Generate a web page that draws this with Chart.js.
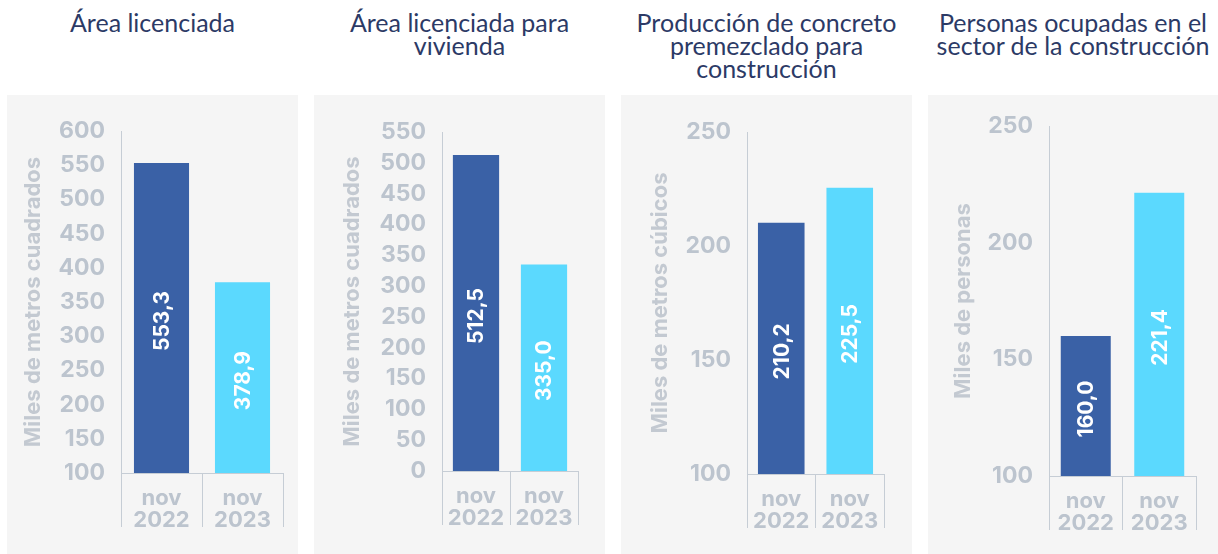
<!DOCTYPE html>
<html>
<head>
<meta charset="utf-8">
<script src="https://cdn.jsdelivr.net/npm/chart.js@4/dist/chart.umd.min.js"></script>
<style>
  body { margin: 0; background: #fff; width: 1218px; height: 554px; position: relative; overflow: hidden; }
  .title { position: absolute; top: 11px; text-align: center; font-family: Lato, sans-serif; font-size: 25px;
           line-height: 23px; color: #2c3a66; white-space: nowrap; }
  canvas { position: absolute; background: #f5f5f5; }
</style>
</head>
<body>
<script>
// data
const categories = [['nov', '2022'], ['nov', '2023']];
const areaLicenciada = [553.3, 378.9];
const areaVivienda = [512.5, 335.0];
const concretoPremezclado = [210.2, 225.5];
const personasOcupadas = [160.0, 221.4];

const titles = [
  ['Área licenciada'],
  ['Área licenciada para', 'vivienda'],
  ['Producción de concreto', 'premezclado para', 'construcción'],
  ['Personas ocupadas en el', 'sector de la construcción']
];
const axisTitles = ['Miles de metros cuadrados', 'Miles de metros cuadrados', 'Miles de metros cúbicos', 'Miles de personas'];
const yMin = [100, 0, 100, 100];
const yMax = [600, 550, 250, 250];
const yStep = 50;
const series = [areaLicenciada, areaVivienda, concretoPremezclado, personasOcupadas];

// layout of the four panels
const panels = [
  { left: 7,   width: 291, areaLeft: 114, padRight: 15, padTop: 36, xHeight: 81, titlePad: 15 },
  { left: 314, width: 291, areaLeft: 128, padRight: 27, padTop: 37, xHeight: 83, titlePad: 27 },
  { left: 621, width: 291, areaLeft: 126, padRight: 28, padTop: 37, xHeight: 80, titlePad: 28 },
  { left: 928, width: 290, areaLeft: 121, padRight: 22, padTop: 31, xHeight: 78, titlePad: 24 }
];
const panelTop = 95, panelHeight = 459;

const grey = '#bcc4ce';
const lineGrey = '#c6cdd5';
const barColors = ['#3a61a6', '#5bd9fe'];

const fmt = v => v.toFixed(1).replace('.', ',');

const barLabels = {
  id: 'barLabels',
  afterDatasetsDraw(chart) {
    const ctx = chart.ctx;
    const meta = chart.getDatasetMeta(0);
    const values = chart.data.datasets[0].data;
    const bottom = chart.chartArea.bottom;
    ctx.save();
    ctx.font = 'bold 21px Inter, sans-serif';
    ctx.fillStyle = '#ffffff';
    ctx.textAlign = 'center';
    ctx.textBaseline = 'middle';
    meta.data.forEach((bar, i) => {
      const p = bar.getProps(['x', 'y', 'base'], true);
      const base = Math.min(p.base, bottom);
      ctx.save();
      ctx.translate(p.x + 1, (p.y + base) / 2 + 3);
      ctx.rotate(-Math.PI / 2);
      ctx.fillText(fmt(values[i]), 0, 0);
      ctx.restore();
    });
    ctx.restore();
  }
};

panels.forEach((pn, k) => {
  const t = document.createElement('div');
  t.className = 'title';
  t.style.left = pn.left + 'px';
  t.style.width = pn.width + 'px';
  t.innerHTML = titles[k].join('<br>');
  document.body.appendChild(t);

  const c = document.createElement('canvas');
  c.width = pn.width;
  c.height = panelHeight;
  c.style.left = pn.left + 'px';
  c.style.top = panelTop + 'px';
  document.body.appendChild(c);

  new Chart(c.getContext('2d'), {
    type: 'bar',
    data: {
      labels: categories,
      datasets: [{
        data: series[k],
        backgroundColor: barColors,
        barPercentage: 0.68,
        categoryPercentage: 1
      }]
    },
    options: {
      responsive: false,
      animation: false,
      devicePixelRatio: 1,
      layout: { padding: { left: 0, right: pn.padRight, top: pn.padTop, bottom: 0 } },
      plugins: { legend: { display: false }, tooltip: { enabled: false } },
      scales: {
        x: {
          offset: true,
          grid: { display: true, drawOnChartArea: false, drawTicks: true, tickLength: 54, offset: true, color: lineGrey, lineWidth: 1 },
          border: { display: true, color: lineGrey, width: 1 },
          ticks: { color: grey, font: { family: 'Inter', weight: 'bold', size: 22, lineHeight: '22px' }, padding: -40, maxRotation: 0 },
          afterFit(scale) { scale.height = pn.xHeight; }
        },
        y: {
          min: yMin[k],
          max: yMax[k],
          grid: { display: false, drawTicks: false },
          border: { display: true, color: lineGrey, width: 1 },
          ticks: { stepSize: yStep, color: grey, font: { family: 'Inter', weight: 'bold', size: 23 }, padding: 16 },
          title: {
            display: true,
            text: axisTitles[k],
            color: '#c3c9d1',
            font: { family: 'Inter', weight: 'bold', size: 22, lineHeight: 1 },
            padding: { top: pn.titlePad, bottom: 0 }
          },
          afterFit(scale) { scale.width = pn.areaLeft; }
        }
      }
    },
    plugins: [barLabels]
  });
});
</script>
</body>
</html>
